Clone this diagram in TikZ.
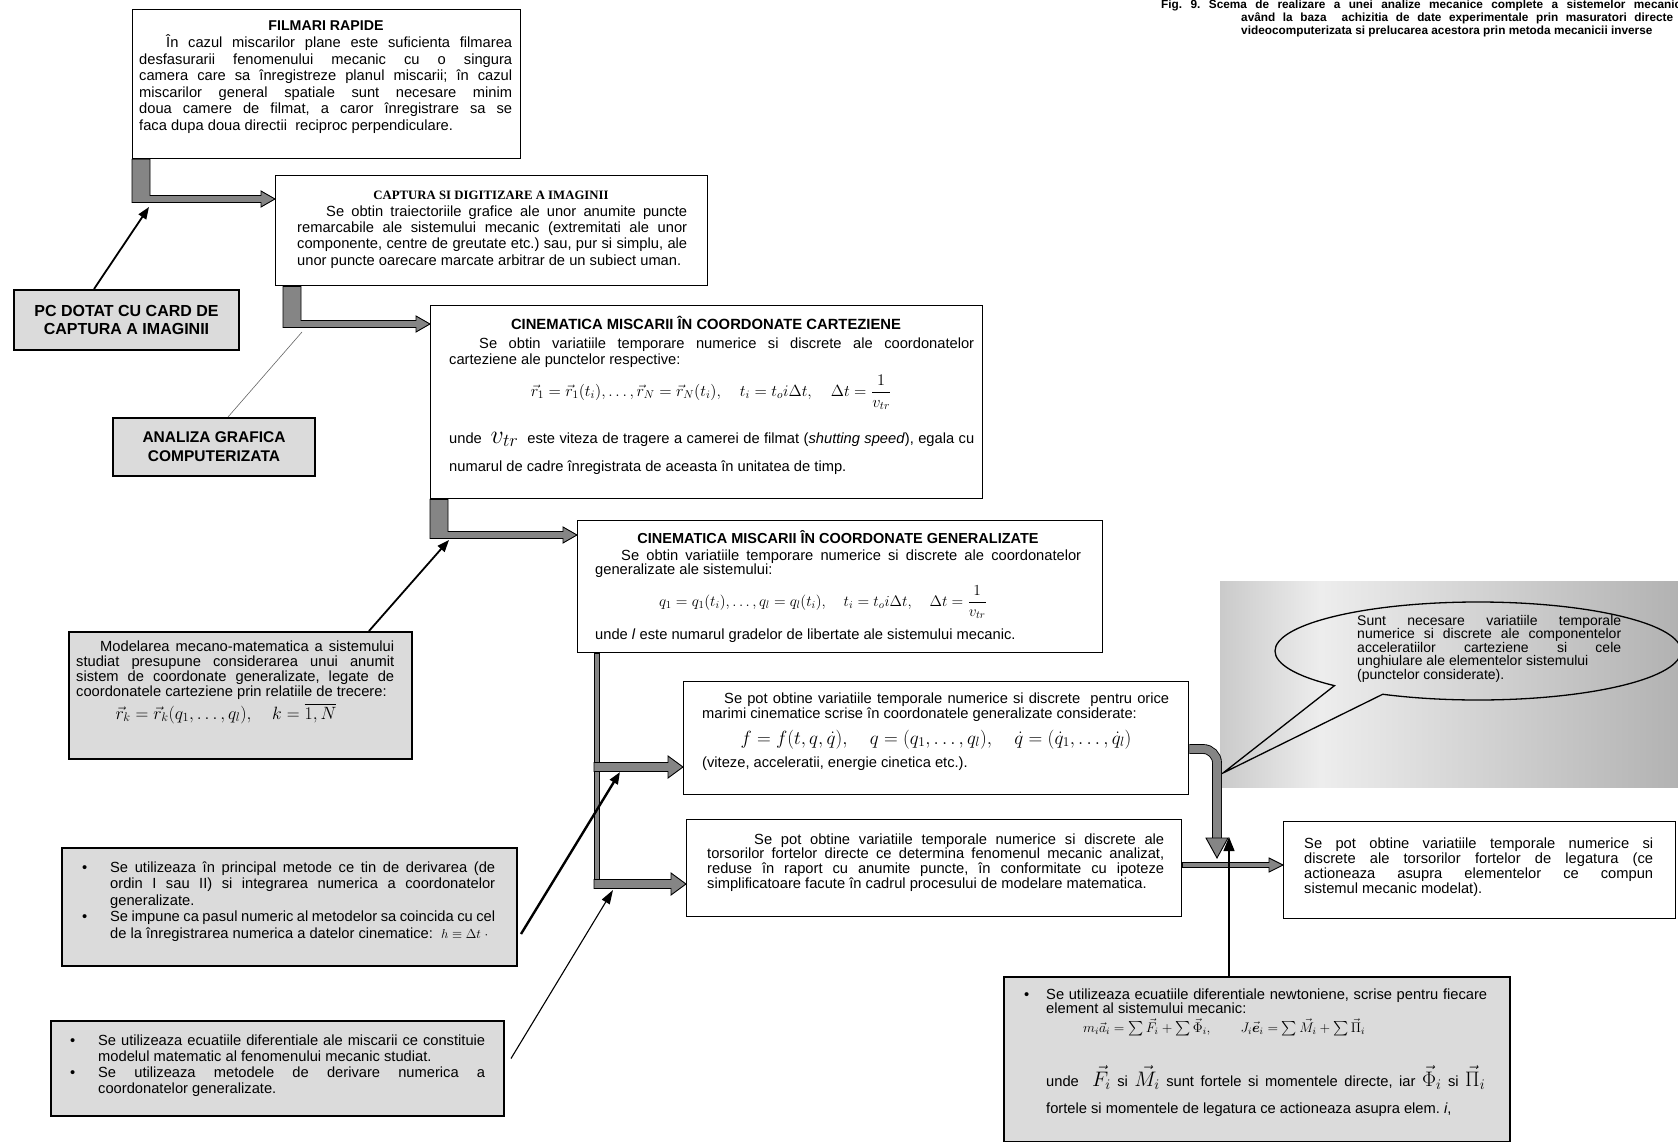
\RequirePackage{fix-cm}
\documentclass[tikz,border=0pt]{standalone}
\usepackage{amsmath}
\usepackage{fontspec}
\setmainfont{Liberation Sans}
\newfontfamily\serifbf{Liberation Serif}
\usepackage{tikz}
\usetikzlibrary{positioning,calc,arrows.meta}
\frenchspacing

\pgfdeclarehorizontalshading{callshade}{100bp}{color(0bp)=(black!52); color(36bp)=(black!7); color(100bp)=(black!45)}

\newlength{\bw}
\newcommand{\sline}[2]{\makebox[#1][s]{\spaceskip=0pt\xspaceskip=0pt #2}}
\newcommand{\jline}[1]{\sline{\hsize}{#1}\\}
\newcommand{\bitem}[1]{\makebox[\bw][l]{\textbullet}\sline{\dimexpr\hsize-\bw\relax}{#1}\\}
\newcommand{\bcont}[1]{\hspace*{\bw}\sline{\dimexpr\hsize-\bw\relax}{#1}\\}
\newcommand{\bpad}{\hspace*{\bw}}
\newcommand{\eqbig}[1]{{\fontsize{21}{21}\selectfont$#1$}}

% elbow arrow: from node, x offset, to node, drop below top of target
\newcommand{\elbow}[4]{%
  \filldraw[bar] let \p1=([xshift=#2]#1.south west), \p2=([yshift=-#4]#3.north west) in
    (\x1,\y1) -- (\x1+18pt,\y1) -- (\x1+18pt,\y2+3.5pt) -- (\x2-14pt,\y2+3.5pt)
    -- (\x2-14pt,\y2+8pt) -- (\x2,\y2) -- (\x2-14pt,\y2-8pt) -- (\x2-14pt,\y2-3.5pt)
    -- (\x1,\y2-3.5pt) -- cycle;}
% branch arrow from the bus into a box
\newcommand{\branch}[3]{%
  \filldraw[bar] let \p1=(#1), \p2=([yshift=-#3]#2.north west) in
    (\x1,\y2+4.5pt) -- (\x2-15pt,\y2+4.5pt) -- (\x2-15pt,\y2+11pt) -- (\x2,\y2)
    -- (\x2-15pt,\y2-11pt) -- (\x2-15pt,\y2-4.5pt) -- (\x1,\y2-4.5pt) -- cycle;}

\begin{document}
\begin{tikzpicture}[x=1pt, y=-1pt,
    box/.style={draw, line width=1.3pt, fill=white, anchor=north west, inner sep=0pt},
    greybox/.style={box, fill=black!14, line width=2pt},
    txt/.style={inner sep=0pt, anchor=base west, align=left, font=\fontsize{14.7}{15}\selectfont,
                execute at begin node={\spaceskip=0pt\xspaceskip=0pt\relax}},
    head/.style={inner sep=0pt, anchor=base, font=\bfseries\fontsize{14.5}{15}\selectfont},
    bar/.style={draw=black, line width=0.9pt, fill=black!48},
    ptr/.style={line width=1.8pt, -{Triangle[length=12pt,width=9pt]}},
    thinline/.style={line width=0.6pt, draw=black!60}
  ]
  \useasboundingbox (0,0) rectangle (1678,1142);
  \fill[white] (0,0) rectangle (1678,1142);

  % title
  \node[inner sep=0pt, anchor=base west, align=left, text width=520pt,
        font=\bfseries\fontsize{11.8}{12.8}\selectfont] (ttl) at (1161,9)
    {\sline{520pt}{Fig. 9. Scema de realizare a unei analize mecanice complete a sistemelor mecanic}\\
     \hspace*{80pt}\sline{432pt}{având la baza \ achizitia de date experimentale prin masuratori directe}\\
     \hspace*{80pt}\spaceskip=0pt videocomputerizata si prelucarea acestora prin metoda mecanicii inverse};

  % callout
  \shade[shading=callshade] (1220,581) rectangle (1678,787);
  \coordinate (cc) at (1478,651);
  \coordinate (tip) at (1223,773);
  \draw[line width=1.3pt] ($(cc)+(135:203 and 49)$)
    arc[start angle=135, end angle=478, x radius=203, y radius=49] -- (tip) -- cycle;
  \node[txt, text width=264pt, font=\fontsize{14}{13.6}\selectfont] (ct) at (1357,625)
    {\jline{Sunt necesare variatiile temporale}
     \jline{numerice si discrete ale componentelor}
     \jline{acceleratiilor carteziene si cele}
     unghiulare ale elementelor sistemului\\
     (punctelor considerate).};

  % main chain of boxes
  \node[box, minimum width=388pt, minimum height=149pt] (b1) at (132,9) {};
  \node[box, minimum width=432pt, minimum height=110pt] (b2) at (275,175) {};
  \node[box, minimum width=552pt, minimum height=193pt] (b3) at (430,305) {};
  \node[box, minimum width=525pt, minimum height=132pt] (b4) at (577,520) {};
  \node[box, minimum width=505pt, minimum height=113pt] (b5) at (683,681) {};
  \node[box, minimum width=495pt, minimum height=97pt] (b6) at (686,819) {};
  \node[box, minimum width=392pt, minimum height=97pt] (b7) at (1283,821) {};
  \node[greybox, minimum width=506pt, minimum height=165pt] (b8) at (1003,976) {};

  % side boxes
  \node[greybox, minimum width=225pt, minimum height=60pt, align=center,
        font=\bfseries\fontsize{16}{18}\selectfont] (pc) at (13,289) {PC DOTAT CU CARD DE\\CAPTURA A IMAGINII};
  \node[greybox, minimum width=202pt, minimum height=58pt, align=center,
        font=\bfseries\fontsize{15.5}{19}\selectfont] (ag) at (112,417) {ANALIZA GRAFICA\\COMPUTERIZATA};
  \node[greybox, minimum width=343pt, minimum height=127pt] (mm) at (68,631) {};
  \node[greybox, minimum width=455pt, minimum height=118pt] (pr) at (61,847) {};
  \node[greybox, minimum width=453pt, minimum height=95pt] (df) at (50,1020) {};

  % gray connectors
  \elbow{b1}{0pt}{b2}{24pt}
  \elbow{b2}{8pt}{b3}{19pt}
  \elbow{b3}{0pt}{b4}{15pt}
  \coordinate (bus) at ([xshift=17pt]b4.south west);
  \filldraw[bar] let \p1=(bus), \p2=([yshift=-65pt]b6.north west) in
    (\x1,\y1) rectangle (\x1+5pt,\y2-4.5pt);
  \branch{bus}{b5}{86pt}
  \branch{bus}{b6}{65pt}
  \filldraw[bar] let \p1=([yshift=-46pt]b6.north east), \p2=(b7.west) in
    (\x1,\y1+2.5pt) -- (\x2-14pt,\y1+2.5pt) -- (\x2-14pt,\y1+7pt) -- (\x2,\y1)
    -- (\x2-14pt,\y1-7pt) -- (\x2-14pt,\y1-2.5pt) -- (\x1,\y1-2.5pt) -- cycle;
  \coordinate (jt) at (1217,838);
  \draw[double=black!48, double distance=8pt, line width=0.9pt, rounded corners=14pt]
    ([yshift=-68pt]b5.north east) -| (jt);
  \filldraw[bar] ([xshift=-11pt]jt) -- ([xshift=11pt]jt) -- ([yshift=-20pt]jt) -- cycle;
  \coordinate (jb) at (1229,837);
  \draw[line width=1.3pt, -{Triangle[length=14pt,width=11pt]}] (b8.north -| jb) -- (jb);

  % texts of the boxes
  \node[head, font=\bfseries\fontsize{14.2}{15}\selectfont] (b1h) at (326,31) {FILMARI RAPIDE};
  \node[txt, text width=373pt, font=\fontsize{14.7}{16.5}\selectfont] (b1x) at (139,48)
    {\jline{\hspace*{27pt}În cazul miscarilor plane este suficienta filmarea}
     \jline{desfasurarii fenomenului mecanic cu o singura}
     \jline{camera care sa înregistreze planul miscarii; în cazul}
     \jline{miscarilor general spatiale sunt necesare minim}
     \jline{doua camere de filmat, a caror înregistrare sa se}
     faca dupa doua directii \ reciproc perpendiculare.};

  \node[head, font=\serifbf\bfseries\fontsize{12.8}{14}\selectfont] (b2h) at (491,200) {CAPTURA SI DIGITIZARE A IMAGINII};
  \node[txt, text width=390pt, font=\fontsize{14.7}{16}\selectfont] (b2x) at (297,217)
    {\jline{\hspace*{29pt}Se obtin traiectoriile grafice ale unor anumite puncte}
     \jline{remarcabile ale sistemului mecanic (extremitati ale unor}
     \jline{componente, centre de greutate etc.) sau, pur si simplu, ale}
     unor puncte oarecare marcate arbitrar de un subiect uman.};

  \node[head, font=\bfseries\fontsize{14.8}{15}\selectfont] (b3h) at (706,329) {CINEMATICA MISCARII ÎN COORDONATE CARTEZIENE};
  \node[txt, text width=525pt, font=\fontsize{14.7}{16}\selectfont] (b3x) at (449,348)
    {\jline{\hspace*{30pt}Se obtin variatiile temporare numerice si discrete ale coordonatelor}
     carteziene ale punctelor respective:};
  \node[txt, anchor=base, font=\fontsize{16.2}{18}\selectfont] (b3e) at (711,396)
    {$\vec r_1=\vec r_1(t_i),\ldots,\vec r_N=\vec r_N(t_i),\quad t_i=t_o i\Delta t,\quad \Delta t=\dfrac{1}{v_{tr}}$};
  \node[txt] (b3u) at (449,443)
    {\sline{525pt}{unde \ {\fontsize{26}{26}\selectfont$v_{tr}$} \ este viteza de tragere a camerei de filmat (\textit{shutting speed}), egala cu}};
  \node[txt] (b3n) at (449,471) {numarul de cadre înregistrata de aceasta în unitatea de timp.};

  \node[head] (b4h) at (838,543) {CINEMATICA MISCARII ÎN COORDONATE GENERALIZATE};
  \node[txt, text width=486pt, font=\fontsize{14.7}{14.5}\selectfont] (b4x) at (595,560)
    {\jline{\hspace*{26pt}Se obtin variatiile temporare numerice si discrete ale coordonatelor}
     generalizate ale sistemului:};
  \node[txt, anchor=base, font=\fontsize{15.3}{17}\selectfont] (b4e) at (823,606)
    {$q_1=q_1(t_i),\ldots,q_l=q_l(t_i),\quad t_i=t_o i\Delta t,\quad \Delta t=\dfrac{1}{v_{tr}}$};
  \node[txt] (b4u) at (595,639) {unde \textit{l} este numarul gradelor de libertate ale sistemului mecanic.};

  \node[txt, text width=467pt, font=\fontsize{14.7}{15.5}\selectfont] (b5x) at (702,703)
    {\jline{\hspace*{22pt}Se pot obtine variatiile temporale numerice si discrete \ pentru orice}
     marimi cinematice scrise în coordonatele generalizate considerate:};
  \node[txt, anchor=base, font=\fontsize{19.1}{20}\selectfont] (b5e) at (936,744)
    {$f=f(t,q,\dot q),\quad q=(q_1,\ldots,q_l),\quad \dot q=(\dot q_1,\ldots,\dot q_l)$};
  \node[txt] (b5n) at (702,767) {(viteze, acceleratii, energie cinetica etc.).};

  \node[txt, text width=457pt, font=\fontsize{14.7}{14.7}\selectfont] (b6x) at (707,844)
    {\jline{\hspace*{47pt}Se pot obtine variatiile temporale numerice si discrete ale}
     \jline{torsorilor fortelor directe ce determina fenomenul mecanic analizat,}
     \jline{reduse în raport cu anumite puncte, în conformitate cu ipoteze}
     simplificatoare facute în cadrul procesului de modelare matematica.};

  \node[txt, text width=349pt] (b7x) at (1304,848)
    {\jline{Se pot obtine variatiile temporale numerice si}
     \jline{discrete ale torsorilor fortelor de legatura (ce}
     \jline{actioneaza asupra elementelor ce compun}
     sistemul mecanic modelat).};

  \node[txt, text width=463pt, font=\fontsize{14.7}{14}\selectfont] (b8x) at (1024,999)
    {\setlength{\bw}{22pt}%
     \bitem{Se utilizeaza ecuatiile diferentiale newtoniene, scrise pentru fiecare}
     \bpad element al sistemului mecanic:};
  \node[txt, font=\fontsize{13.9}{16}\selectfont] (b8e) at (1083,1032)
    {$m_i\vec a_i=\sum\vec F_i+\sum\vec\Phi_i,\qquad J_i\vec{\boldsymbol e}_i=\sum\vec M_i+\sum\vec\Pi_i$};
  \node[txt] (b8u) at (1046,1086)
    {\sline{439pt}{unde \ \eqbig{\vec F_i} si \eqbig{\vec M_i} sunt fortele si momentele directe, iar \eqbig{\vec\Phi_i} si \eqbig{\vec\Pi_i}}};
  \node[txt] (b8n) at (1046,1113) {fortele si momentele de legatura ce actioneaza asupra elem. \textit{i},};

  % texts of the side boxes
  \node[txt, text width=318pt] (mmx) at (76,651)
    {\jline{\hspace*{24pt}Modelarea mecano-matematica a sistemului}
     \jline{studiat presupune considerarea unui anumit}
     \jline{sistem de coordonate generalizate, legate de}
     coordonatele carteziene prin relatiile de trecere:};
  \node[txt, anchor=base, font=\fontsize{17.8}{19}\selectfont] (mme) at (226,719)
    {$\vec r_k=\vec r_k(q_1,\ldots,q_l),\quad k=\overline{1,N}$};

  \node[txt, text width=413pt, font=\fontsize{14.7}{16.5}\selectfont] (prx) at (82,872)
    {\setlength{\bw}{28pt}%
     \bitem{Se utilizeaza în principal metode ce tin de derivarea (de}
     \bcont{ordin I sau II) si integrarea numerica a coordonatelor}
     \bpad generalizate.\\
     \bitem{Se impune ca pasul numeric al metodelor sa coincida cu cel}
     \bpad de la înregistrarea numerica a datelor cinematice: \ {\fontsize{13}{14}\selectfont$h\equiv\Delta t\ \cdot$}};

  \node[txt, text width=415pt, font=\fontsize{14.7}{16}\selectfont] (dfx) at (70,1045)
    {\setlength{\bw}{28pt}%
     \bitem{Se utilizeaza ecuatiile diferentiale ale miscarii ce constituie}
     \bpad modelul matematic al fenomenului mecanic studiat.\\
     \bitem{Se utilizeaza metodele de derivare numerica a}
     \bpad coordonatelor generalizate.};

  % pointers from the side boxes
  \coordinate (pcend) at (149,207);
  \draw[ptr] ([xshift=81pt]pc.north west) -- (pcend);
  \coordinate (agend) at (302,332);
  \draw[thinline] ([xshift=116pt]ag.north west) -- (agend);
  \coordinate (mmend) at (449,540);
  \draw[ptr] ([xshift=301pt]mm.north west) -- (mmend);
  \coordinate (prend) at (620,772);
  \draw[ptr, line width=2.4pt] ([shift={(3pt,-27pt)}]pr.east) -- (prend);
  \coordinate (dfend) at (613,890);
  \draw[line width=1.1pt, -{Triangle[length=14pt,width=9pt]}] ([shift={(6pt,10pt)}]df.east) -- (dfend);
\end{tikzpicture}
\end{document}
